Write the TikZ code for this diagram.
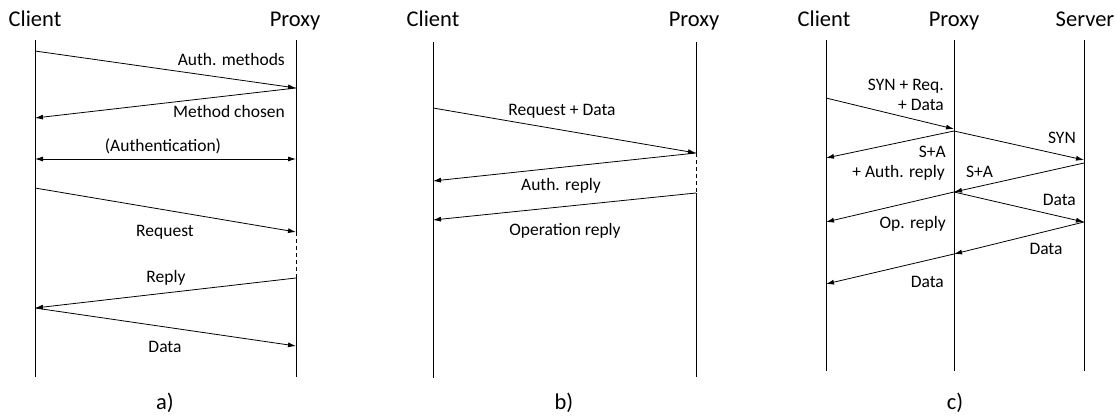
\documentclass[tikz,border=0pt]{standalone}
\usepackage{fontspec}
\setmainfont{Carlito}
\usetikzlibrary{arrows.meta}
\begin{document}
\begin{tikzpicture}[x=1pt,y=-1pt,
  life/.style={line width=0.8pt},
  gap/.style={line width=0.8pt,dash pattern=on 4pt off 3pt},
  msg/.style={line width=0.8pt,-{Latex[length=8pt,width=5pt]}},
  msgboth/.style={line width=0.8pt,{Latex[length=8pt,width=5pt]}-{Latex[length=8pt,width=5pt]}},
  lbl/.style={font=\fontsize{17.5}{20}\selectfont,inner sep=0pt},
  ttl/.style={font=\fontsize{22.5}{26}\selectfont,inner sep=0pt}]
\useasboundingbox (0,0) rectangle (1116,415);

% ---------- panel a ----------
\node[ttl,anchor=base] (aC) at (35,26) {Client};
\node[ttl,anchor=base] (aP) at (295,26) {Proxy};
\coordinate (aCt) at (35,40);  \coordinate (aCb) at (35,377);
\coordinate (aPt) at (296,40); \coordinate (aPb) at (296,377);
\coordinate (a1) at (35,51);   \coordinate (a2) at (296,88);
\coordinate (a3) at (35,118);
\coordinate (a4) at (35,159);  \coordinate (a5) at (296,159);
\coordinate (a6) at (35,188);  \coordinate (a7) at (296,232);
\coordinate (a8) at (296,278); \coordinate (a9) at (35,308);
\coordinate (a10) at (296,346);
\draw[life] (aCt) -- (aCb);
\draw[life] (aPt) -- (a7);
\draw[gap] (a7) -- (a8);
\draw[life] (a8) -- (aPb);
\draw[msg] (a1) -- (a2);
\draw[msg] (a2) -- (a3);
\draw[msgboth] (a4) -- (a5);
\draw[msg] (a6) -- (a7);
\draw[msg] (a8) -- (a9);
\draw[msg] (a9) -- (a10);
\node[lbl,anchor=base east] (la1) at (285,65.5) {Auth. methods};
\node[lbl,anchor=base east] (la2) at (285,117.5) {Method chosen};
\node[lbl,anchor=base] (la3) at (163,151) {(Authentication)};
\node[lbl,anchor=base] (la4) at (165,236) {Request};
\node[lbl,anchor=base] (la5) at (166,282) {Reply};
\node[lbl,anchor=base] (la6) at (165,352) {Data};
\node[ttl,anchor=base] (capa) at (165,409) {a)};

% ---------- panel b ----------
\node[ttl,anchor=base] (bC) at (433,26) {Client};
\node[ttl,anchor=base] (bP) at (694,26) {Proxy};
\coordinate (bCt) at (433,42);  \coordinate (bCb) at (433,378);
\coordinate (bPt) at (696,42);  \coordinate (bPb) at (696,377);
\coordinate (b1) at (433,108);  \coordinate (b2) at (696,153);
\coordinate (b3) at (433,181);
\coordinate (b4) at (696,193);  \coordinate (b5) at (433,220);
\draw[life] (bCt) -- (bCb);
\draw[life] (bPt) -- (b2);
\draw[gap] (b2) -- (b4);
\draw[life] (b4) -- (bPb);
\draw[msg] (b1) -- (b2);
\draw[msg] (b2) -- (b3);
\draw[msg] (b4) -- (b5);
\node[lbl,anchor=base] (lb1) at (562,115) {Request + Data};
\node[lbl,anchor=base] (lb2) at (561,190) {Auth. reply};
\node[lbl,anchor=base] (lb3) at (565,235) {Operation reply};
\node[ttl,anchor=base] (capb) at (564,409) {b)};

% ---------- panel c ----------
\node[ttl,anchor=base] (cC) at (824,26) {Client};
\node[ttl,anchor=base] (cP) at (954,26) {Proxy};
\node[ttl,anchor=base] (cS) at (1085,26) {Server};
\coordinate (cCt) at (826,40);  \coordinate (cCb) at (826,371);
\coordinate (cPt) at (954,40);  \coordinate (cPb) at (954,371);
\coordinate (cSt) at (1084,40); \coordinate (cSb) at (1084,371);
\coordinate (c1) at (826,98);   \coordinate (c2) at (954,129);
\coordinate (c3) at (954,131);  \coordinate (c4) at (1084,160);
\coordinate (c5) at (826,158);
\coordinate (c6) at (1084,163); \coordinate (c7) at (954,192);
\coordinate (c8) at (826,222);  \coordinate (c9) at (1084,222);
\coordinate (c10) at (954,254); \coordinate (c11) at (826,284);
\draw[life] (cCt) -- (cCb);
\draw[life] (cPt) -- (cPb);
\draw[life] (cSt) -- (cSb);
\draw[msg] (c1) -- (c2);
\draw[msg] (c3) -- (c4);
\draw[msg] (c3) -- (c5);
\draw[msg] (c6) -- (c7);
\draw[msg] (c7) -- (c8);
\draw[msg] (c7) -- (c9);
\draw[msg] (c9) -- (c10);
\draw[msg] (c10) -- (c11);
\node[lbl,anchor=base east] (lc1) at (944,90) {SYN + Req.};
\node[lbl,anchor=base east] (lc2) at (944,110) {+ Data};
\node[lbl,anchor=base east] (lc3) at (1076,143) {SYN};
\node[lbl,anchor=base east] (lc4) at (946,157) {S+A};
\node[lbl,anchor=base east] (lc5) at (945,177) {+ Auth. reply};
\node[lbl,anchor=base west] (lc6) at (966,177) {S+A};
\node[lbl,anchor=base east] (lc7) at (1076,205) {Data};
\node[lbl,anchor=base east] (lc8) at (946,228) {Op. reply};
\node[lbl,anchor=base] (lc9) at (1046,254) {Data};
\node[lbl,anchor=base east] (lc10) at (944,287) {Data};
\node[ttl,anchor=base] (capc) at (955,409) {c)};
\end{tikzpicture}
\end{document}
